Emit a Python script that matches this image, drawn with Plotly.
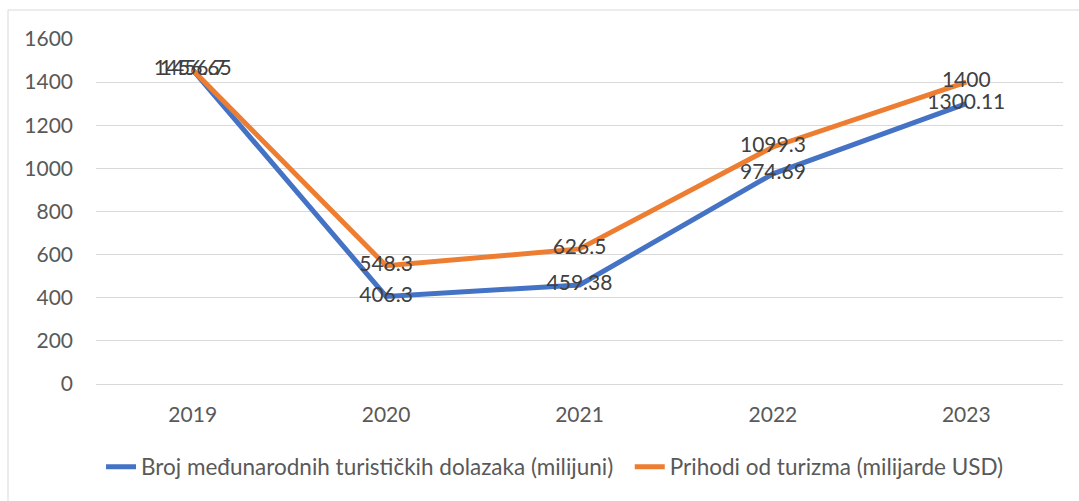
import plotly.graph_objects as go

years = ["2019", "2020", "2021", "2022", "2023"]
arrivals = [1456.65, 406.3, 459.38, 974.69, 1300.11]
receipts = [1456.7, 548.3, 626.5, 1099.3, 1400]
arrivals_labels = ["1456.65", "406.3", "459.38", "974.69", "1300.11"]
receipts_labels = ["1456.7", "548.3", "626.5", "1099.3", "1400"]
name_arrivals = "Broj međunarodnih turističkih dolazaka (milijuni)"
name_receipts = "Prihodi od turizma (milijarde USD)"

FONT = "Lato"
TXT = "#595959"

fig = go.Figure()
fig.add_trace(go.Scatter(
    x=years, y=arrivals, name=name_arrivals + "\u00a0\u00a0", mode="lines+text",
    text=arrivals_labels, textposition="middle center",
    line=dict(color="#4472C4", width=5),
    textfont=dict(family=FONT, size=21, color="#404040"),
    cliponaxis=False,
))
fig.add_trace(go.Scatter(
    x=years, y=receipts, name=name_receipts, mode="lines+text",
    text=receipts_labels, textposition="middle center",
    line=dict(color="#ED7D31", width=5),
    textfont=dict(family=FONT, size=21, color="#404040"),
    cliponaxis=False,
))

fig.update_layout(
    width=1079, height=501,
    margin=dict(l=96, r=16, t=39, b=117),
    paper_bgcolor="white", plot_bgcolor="white",
    font=dict(family=FONT, size=21, color=TXT),
    showlegend=True,
    legend=dict(orientation="h", x=0.4747, xanchor="center", y=-0.2406,
                yanchor="middle", font=dict(family=FONT, size=22.5, color=TXT),
                itemwidth=30, traceorder="normal"),
    xaxis=dict(type="category", range=[-0.5, 4.5], showgrid=False, showline=True,
               linecolor="#D9D9D9", linewidth=1, ticks="",
               ticklabelstandoff=12, tickfont=dict(size=21, color=TXT)),
    yaxis=dict(range=[0, 1600], dtick=200, showgrid=True, gridcolor="#D9D9D9",
               gridwidth=1, zeroline=True, zerolinecolor="#D9D9D9",
               showline=False, ticks="", ticklabelstandoff=22,
               tickfont=dict(size=21, color=TXT)),
    shapes=[dict(type="rect", xref="paper", yref="paper",
                 x0=-0.091, x1=1.2, y0=-0.6, y1=1.084,
                 line=dict(color="#D9D9D9", width=1), layer="below")],
)

fig.write_html("out.html", config={"displayModeBar": False},
               post_script="document.body.style.margin='0';document.body.style.overflow='hidden';")
